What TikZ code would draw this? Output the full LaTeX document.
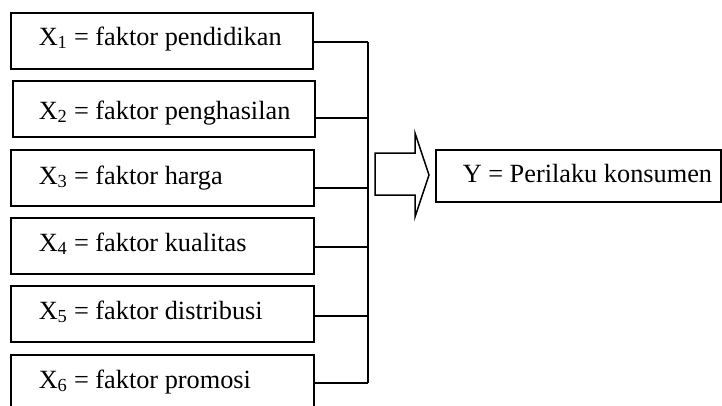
\documentclass[tikz,border=0pt]{standalone}
\usepackage{fontspec}
\setmainfont{Liberation Serif}
\begin{document}
\begin{tikzpicture}[x=1pt,y=-1pt,
  line width=1.5pt,
  factorbox/.style={draw, rectangle, inner sep=0pt, anchor=north west},
  lbl/.style={anchor=base west, inner sep=0pt, font=\fontsize{26.3}{30}\selectfont},
  link/.style={line width=1.5pt}]
\useasboundingbox (0,0) rectangle (722,405);
\clip (0,0) rectangle (722,405);

% factor boxes
\node[factorbox, minimum width=302pt, minimum height=56pt] (b1) at (10,12) {};
\node[factorbox, minimum width=302pt, minimum height=56pt] (b2) at (12,80) {};
\node[factorbox, minimum width=303pt, minimum height=56pt] (b3) at (10,149) {};
\node[factorbox, minimum width=303pt, minimum height=56pt] (b4) at (10,217) {};
\node[factorbox, minimum width=303pt, minimum height=56pt] (b5) at (10,285) {};
\node[factorbox, minimum width=303pt, minimum height=56pt] (b6) at (10,354) {};

% labels
\node[lbl] (t1) at (38,45) {X\textsubscript{1} = faktor pendidikan};
\node[lbl] (t2) at (38,119) {X\textsubscript{2} = faktor penghasilan};
\node[lbl] (t3) at (38,184) {X\textsubscript{3} = faktor harga};
\node[lbl] (t4) at (38,251) {X\textsubscript{4} = faktor kualitas};
\node[lbl] (t5) at (38,319) {X\textsubscript{5} = faktor distribusi};
\node[lbl] (t6) at (38,388) {X\textsubscript{6} = faktor promosi};

% junctions on the collecting bar
\coordinate (j1) at (368,42);
\coordinate (j2) at (368,118);
\coordinate (j3) at (368,188);
\coordinate (j4) at (368,247);
\coordinate (j5) at (368,316);
\coordinate (j6) at (368,383);

\foreach \i in {1,...,6} {
  \draw[link] (b\i.east |- j\i) -- (j\i);
}
\draw[link] (j1) -- (j6);

% block arrow
\draw[line width=1.5pt, line join=miter]
  (375,153) -- (415,153) -- (415,133) -- (429,175) -- (415,217)
  -- (415,195) -- (375,195) -- cycle;

% outcome box
\node[factorbox, minimum width=285pt, minimum height=52pt] (y) at (435,149) {};
\node[lbl] (ty) at (462,182) {Y = Perilaku konsumen};
\end{tikzpicture}
\end{document}
